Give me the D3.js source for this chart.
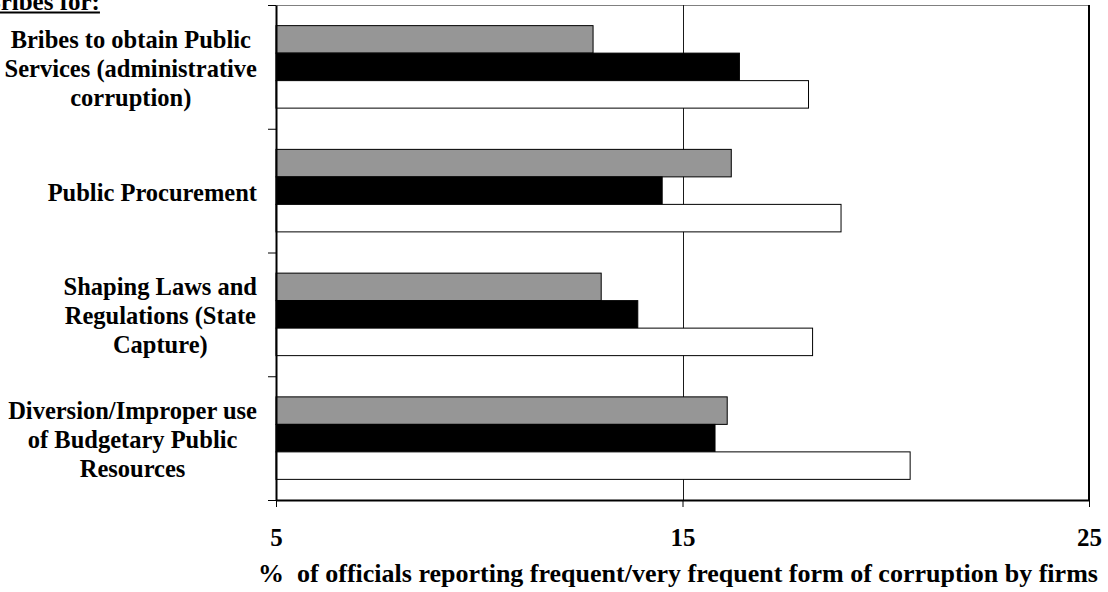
<!DOCTYPE html>
<html>
<head>
<meta charset="utf-8">
<script src="https://cdn.jsdelivr.net/npm/d3@7/dist/d3.min.js"></script>
<style>
  html, body { margin: 0; padding: 0; background: #fff; }
  svg { display: block; }
  text { font-family: "Liberation Serif", "Times New Roman", serif; font-weight: bold; fill: #000; }
</style>
</head>
<body>
<svg id="chart" width="1108" height="592"></svg>
<script>
// Categories (top to bottom), each label split into its display lines
const categories = [
  "Bribes to obtain Public Services (administrative corruption)",
  "Public Procurement",
  "Shaping Laws and Regulations (State Capture)",
  "Diversion/Improper use of Budgetary Public Resources"
];
const categoryLines = [
  ["Bribes to obtain Public", "Services (administrative", "corruption)"],
  ["Public Procurement"],
  ["Shaping Laws and", "Regulations (State", "Capture)"],
  ["Diversion/Improper use", "of Budgetary Public", "Resources"]
];

// Three series, drawn top to bottom inside each category
const seriesNames = ["Series 1", "Series 2", "Series 3"];
const series1 = [12.8, 16.2, 13.0, 16.1];
const series2 = [16.4, 14.5, 13.9, 15.8];
const series3 = [18.1, 18.9, 18.2, 20.6];

const xTicks = [5, 15, 25];
const groupTitle = "Bribes for:";
const xAxisTitle = "%  of officials reporting frequent/very frequent form of corruption by firms";

const seriesValues = [series1, series2, series3];
const seriesFill = ["#969696", "#000000", "#ffffff"];

const svg = d3.select("#chart");
const plot = { left: 276, right: 1089, top: 5, bottom: 500 };

const x = d3.scaleLinear().domain([5, 25]).range([plot.left, plot.right]);
const y = d3.scaleBand().domain(categories).range([plot.top, plot.bottom]).paddingInner(0).paddingOuter(0);
const ySeries = d3.scaleBand().domain(seriesNames).range([0, y.bandwidth()]).paddingInner(0).paddingOuter(0.75);

// Plot area frame
svg.append("line")
  .attr("x1", plot.left).attr("x2", plot.right)
  .attr("y1", plot.top + 0.5).attr("y2", plot.top + 0.5)
  .attr("stroke", "#808080").attr("stroke-width", 1);

// Vertical gridlines at the major ticks
svg.append("g")
  .selectAll("line")
  .data(xTicks.filter(d => d > 5 && d < 25))
  .join("line")
  .attr("x1", d => Math.round(x(d)) + 0.5).attr("x2", d => Math.round(x(d)) + 0.5)
  .attr("y1", plot.top).attr("y2", plot.bottom)
  .attr("stroke", "#1a1a1a").attr("stroke-width", 1);

svg.append("line")
  .attr("x1", plot.right).attr("x2", plot.right)
  .attr("y1", plot.top).attr("y2", plot.bottom)
  .attr("stroke", "#000").attr("stroke-width", 2);

// Bars
const rows = [];
categories.forEach((c, i) => {
  seriesNames.forEach((s, j) => {
    rows.push({ cat: c, series: s, value: seriesValues[j][i], fill: seriesFill[j] });
  });
});

svg.append("g")
  .selectAll("rect")
  .data(rows)
  .join("rect")
  .attr("x", x(5))
  .attr("y", d => y(d.cat) + ySeries(d.series))
  .attr("width", d => x(d.value) - x(5))
  .attr("height", ySeries.bandwidth())
  .attr("fill", d => d.fill)
  .attr("stroke", "#000")
  .attr("stroke-width", 1);

// Bottom axis
const xAxis = svg.append("g")
  .attr("transform", `translate(0,${plot.bottom})`)
  .call(d3.axisBottom(x).tickValues(xTicks).tickSize(7).tickSizeOuter(0).tickFormat(d3.format("d")));
xAxis.select(".domain").attr("stroke", "#000").attr("stroke-width", 2);
xAxis.selectAll(".tick line").attr("stroke", "#000");
xAxis.selectAll(".tick text")
  .attr("y", 46).attr("dy", 0)
  .style("font-family", '"Liberation Serif", "Times New Roman", serif')
  .style("font-weight", "bold")
  .style("font-size", "25px")
  .attr("fill", "#000");

// Left axis: ticks between categories
const yEdge = d3.scaleLinear().domain([0, categories.length]).range([plot.top, plot.bottom]);
const yAxis = svg.append("g")
  .attr("transform", `translate(${plot.left},0)`)
  .call(d3.axisLeft(yEdge).ticks(categories.length).tickSize(8).tickSizeOuter(0).tickFormat(""));
yAxis.select(".domain").attr("stroke", "#000").attr("stroke-width", 2);
yAxis.selectAll(".tick line").attr("stroke", "#000");

// Category labels: lines centred within each block, block right-aligned to the axis
const labelRight = 257;
const lineGap = 29;
categoryLines.forEach((lines, i) => {
  const cy = y(categories[i]) + y.bandwidth() / 2;
  const t = svg.append("text").style("font-size", "24.5px").attr("text-anchor", "middle");
  const spans = t.selectAll("tspan").data(lines).join("tspan")
    .attr("y", (d, k) => cy + 10 + (k - (lines.length - 1) / 2) * lineGap)
    .text(d => d);
  let maxW = 0;
  spans.each(function () { maxW = Math.max(maxW, this.getComputedTextLength()); });
  spans.attr("x", labelRight - maxW / 2);
});

// Group heading, underlined
const head = svg.append("text")
  .attr("x", -16).attr("y", 10)
  .style("font-size", "25px")
  .text(groupTitle);
const hw = head.node().getComputedTextLength();
svg.append("line")
  .attr("x1", -16).attr("x2", -16 + hw)
  .attr("y1", 12.5).attr("y2", 12.5)
  .attr("stroke", "#000").attr("stroke-width", 2);

// Axis title
svg.append("text")
  .attr("x", 678).attr("y", 582)
  .attr("text-anchor", "middle")
  .style("font-size", "26px")
  .style("white-space", "pre")
  .attr("xml:space", "preserve")
  .text(xAxisTitle);
</script>
</body>
</html>
